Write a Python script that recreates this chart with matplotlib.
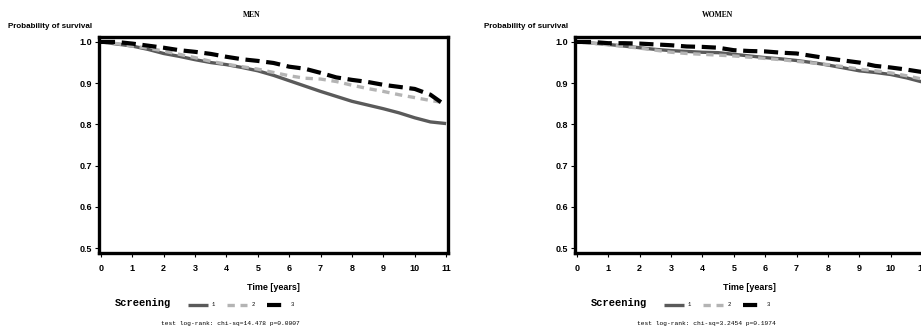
import matplotlib
matplotlib.use('Agg')
import matplotlib.pyplot as plt

W, H = 921, 329

years = [0, 0.5, 1, 1.5, 2, 2.5, 3, 3.5, 4, 4.5, 5, 5.5, 6, 6.5, 7, 7.5,
         8, 8.5, 9, 9.5, 10, 10.5, 11]

men_1 = [1.0, 0.995, 0.99, 0.982, 0.972, 0.965, 0.957, 0.950, 0.945, 0.938,
         0.930, 0.919, 0.906, 0.893, 0.880, 0.868, 0.856, 0.847, 0.838, 0.828,
         0.816, 0.806, 0.802]
men_2 = [1.0, 0.996, 0.99, 0.985, 0.978, 0.970, 0.962, 0.953, 0.946, 0.940,
         0.934, 0.926, 0.918, 0.912, 0.910, 0.904, 0.895, 0.887, 0.880, 0.872,
         0.865, 0.858, 0.852]
men_3 = [1.0, 1.0, 0.996, 0.991, 0.986, 0.980, 0.976, 0.971, 0.964, 0.958,
         0.954, 0.949, 0.940, 0.935, 0.925, 0.914, 0.908, 0.903, 0.896, 0.891,
         0.886, 0.872, 0.845]

women_1 = [1.0, 0.997, 0.994, 0.990, 0.986, 0.982, 0.979, 0.977, 0.975, 0.974,
           0.970, 0.966, 0.962, 0.959, 0.955, 0.950, 0.944, 0.937, 0.930, 0.926,
           0.921, 0.913, 0.903]
women_2 = [1.0, 0.997, 0.993, 0.989, 0.985, 0.980, 0.975, 0.972, 0.970, 0.968,
           0.966, 0.963, 0.960, 0.957, 0.953, 0.949, 0.945, 0.940, 0.934, 0.930,
           0.925, 0.918, 0.910]
women_3 = [1.0, 1.0, 0.997, 0.997, 0.996, 0.994, 0.992, 0.989, 0.988, 0.986,
           0.980, 0.978, 0.977, 0.974, 0.972, 0.966, 0.960, 0.955, 0.950, 0.942,
           0.938, 0.933, 0.927]

groups = ['1', '2', '3']
x_ticks = list(range(0, 12))
y_ticks = [0.5, 0.6, 0.7, 0.8, 0.9, 1.0]

panels = [
    ('MEN', [men_1, men_2, men_3], 'test log-rank: chi-sq=14.478 p=0.0007'),
    ('WOMEN', [women_1, women_2, women_3], 'test log-rank: chi-sq=3.2454 p=0.1974'),
]

styles = [
    dict(color='#5a5a5a', lw=2.4, ls='-'),
    dict(color='#b4b4b4', lw=2.4, ls=(0, (2.2, 1.7))),
    dict(color='#000000', lw=3.0, ls=(0, (3.4, 1.6))),
]

SANS = 'Liberation Sans'
MONO = 'Liberation Mono'
SERIF = 'Liberation Serif'


def fx(px):
    return px / W


def fy(py):
    return 1 - py / H


fig = plt.figure(figsize=(W / 100, H / 100), dpi=100)
fig.patch.set_facecolor('white')

offset = 476
for i, (title, series, footnote) in enumerate(panels):
    dx = offset * i
    ax = fig.add_axes([fx(99 + dx), fy(253), fx(349), (253 - 37) / H])
    lines = []
    for vals, st in zip(series, styles):
        ln, = ax.plot(years, vals, color=st['color'], lw=st['lw'],
                      linestyle=st['ls'], solid_capstyle='butt',
                      dash_capstyle='butt')
        lines.append(ln)
    ax.set_xlim(-0.06, 11.06)
    ax.set_ylim(0.488, 1.012)
    ax.set_xticks(x_ticks)
    ax.set_yticks(y_ticks)
    ax.set_xticklabels([str(t) for t in x_ticks], fontfamily=SANS,
                       fontweight='bold', fontsize=6.5)
    ax.set_yticklabels([f'{v:.1f}' for v in y_ticks], fontfamily=SANS,
                       fontweight='bold', fontsize=6.5)
    ax.tick_params(axis='x', length=3, width=0.8, pad=5)
    ax.tick_params(axis='y', length=3, width=0.8, pad=2)
    for sp in ax.spines.values():
        sp.set_linewidth(2.4)
        sp.set_color('black')

    # titles and labels
    fig.text(fx(8 + dx), fy(27), 'Probability of survival',
             fontfamily=SANS, fontweight='bold', fontsize=5.8,
             ha='left', va='center')
    fig.text(fx(252 + dx - 10 * i), fy(15), title, fontfamily=SERIF,
             fontweight='bold', fontsize=5.5, ha='center', va='center')
    fig.text(fx(273 + dx), fy(288), 'Time [years]', fontfamily=SANS,
             fontweight='bold', fontsize=6.5, ha='center', va='center')
    fig.text(fx(115 + dx), fy(303), 'Screening', fontfamily=MONO,
             fontweight='bold', fontsize=7.5, ha='left', va='center')
    fig.legend(lines, groups, loc='center left',
               bbox_to_anchor=(fx(188 + dx), fy(305)),
               bbox_transform=fig.transFigure, ncol=3, frameon=False,
               prop={'family': MONO, 'size': 4}, handlelength=3.6,
               handletextpad=0.7, columnspacing=2.2, borderpad=0,
               borderaxespad=0)
    fig.text(fx(230 + dx), fy(324), footnote, fontfamily=MONO,
             fontsize=4.5, ha='center', va='center')

fig.savefig('out.png', dpi=100, facecolor='white')
